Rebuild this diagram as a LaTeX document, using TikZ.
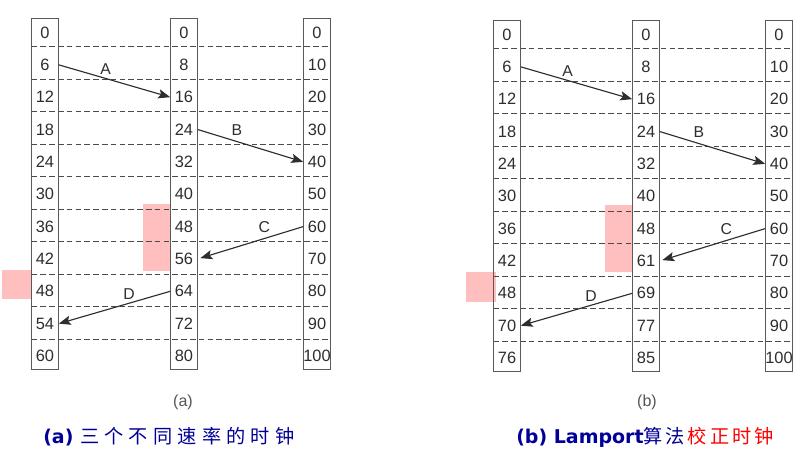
\documentclass[tikz,border=0pt]{standalone}
\usepackage{fontspec}
\setmainfont{Liberation Sans}
\newfontfamily\capfont{DejaVu Sans}
\newfontfamily\cjk{Noto Sans CJK SC}
\usetikzlibrary{arrows.meta}
\definecolor{numgray}{HTML}{2E2E2E}
\definecolor{boxgray}{HTML}{5A5A5A}
\definecolor{dashgray}{HTML}{4A4A4A}
\definecolor{pinkbox}{HTML}{FFBFBF}
\definecolor{capblue}{HTML}{000099}
\definecolor{capred}{HTML}{FF0000}
\definecolor{labgray}{HTML}{555555}
\newcommand\gapa{\hspace{3.9pt}}
\newcommand\gapb{\hspace{2.2pt}}
\newcommand\drawclocks[6]{%
\begin{scope}[shift={(#2,#3)}]
 \foreach \yy in {46.5,79.5,111.5,144.5,176.5,209.5,241.5,274.5,306.5,339.5}{\draw[rowline] (31.5,\yy) -- (330.5,\yy);}
 \draw[colbox] (31.5,18.5) rectangle (58.5,369.5);
 \draw[colbox] (170.5,18.5) rectangle (197.5,369.5);
 \draw[colbox] (303.5,18.5) rectangle (330.5,369.5);
 \foreach \v [count=\i from 0] in {#4}{\node[cell] (#1c1-\i) at (45,{32.5+32.35*\i}) {\v};}
 \foreach \v [count=\i from 0] in {#5}{\node[cell] (#1c2-\i) at (184,{32.5+32.35*\i}) {\v};}
 \foreach \v [count=\i from 0] in {#6}{\node[cell] (#1c3-\i) at (317,{32.5+32.35*\i}) {\v};}
 \draw[msg] (#1c1-1.east) -- node[msglabel, pos=0.42, above=2.5pt]{A} (#1c2-2.west);
 \draw[msg] (#1c2-3.east) -- node[msglabel, pos=0.37, above=4pt]{B} (#1c3-4.west);
 \draw[msg, shorten >=2pt] (#1c3-6.west) -- node[msglabel, pos=0.37, above=4pt]{C} (#1c2-7.east);
 \draw[msg] (#1c2-8.west) -- node[msglabel, pos=0.37, above=2.5pt]{D} (#1c1-9.east);
\end{scope}}

\begin{document}
\begin{tikzpicture}[x=0.75pt,y=-0.75pt,
 cell/.style={minimum width=20.25pt, inner sep=0pt, text=numgray, font=\fontsize{12.3pt}{14pt}\selectfont},
 colbox/.style={draw=boxgray, line width=0.75pt},
 rowline/.style={draw=dashgray, line width=0.75pt, dash pattern=on 4.3pt off 2.3pt},
 msg/.style={draw=numgray, line width=0.85pt, -{Stealth[length=9pt,width=6.9pt,inset=1.8pt]}},
 msglabel/.style={text=numgray, font=\fontsize{11.8pt}{13pt}\selectfont, inner sep=0pt},
 hl/.style={fill=pinkbox, draw=none},
 sublabel/.style={text=labgray, font=\fontsize{12pt}{14pt}\selectfont, inner sep=0pt},
 caption/.style={anchor=west, inner sep=0pt, text=capblue, font=\capfont\bfseries\fontsize{14.25pt}{17pt}\selectfont}
]
\useasboundingbox (0,0) rectangle (807,473);
\fill[white] (0,0) rectangle (807,473);
% highlights
\fill[hl] (143,204) rectangle (171,271);
\fill[hl] (2,270) rectangle (31,299);
\fill[hl] (605,205) rectangle (633,272);
\fill[hl] (466,272) rectangle (496,302);
% diagrams
\drawclocks{a}{0}{0}{0,6,12,18,24,30,36,42,48,54,60}{0,8,16,24,32,40,48,56,64,72,80}{0,10,20,30,40,50,60,70,80,90,100}
\drawclocks{b}{462}{2}{0,6,12,18,24,30,36,42,48,70,76}{0,8,16,24,32,40,48,61,69,77,85}{0,10,20,30,40,50,60,70,80,90,100}
% sub labels
\node[sublabel] (la) at (183,402) {(a)};
\node[sublabel] (lb) at (647,402) {(b)};
% captions
\node[caption] (capa) at (43,437) {(a) {\cjk\mdseries\fontsize{14.4pt}{17pt}\selectfont 三\gapa 个\gapa 不\gapa 同\gapa 速\gapa 率\gapa 的\gapa 时\gapa 钟}};
\node[caption] (capb) at (516,437) {(b) Lamport{\cjk\mdseries\fontsize{14.4pt}{17pt}\selectfont 算\gapb 法\gapb\textcolor{capred}{校\gapb 正\gapb 时\gapb 钟}}};
\end{tikzpicture}
\end{document}
